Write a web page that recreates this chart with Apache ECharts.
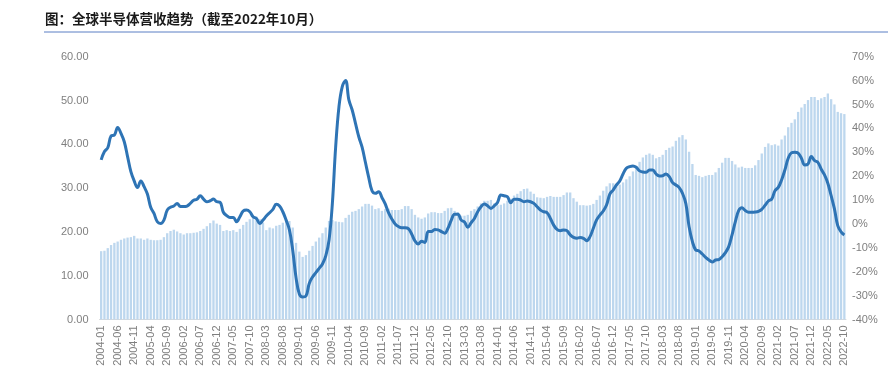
<!DOCTYPE html>
<html>
<head>
<meta charset="utf-8">
<script src="https://cdn.jsdelivr.net/npm/echarts@6/dist/echarts.min.js"></script>
<style>
  html, body { margin: 0; padding: 0; background: #fff; }
  #chart { width: 888px; height: 377px; }
</style>
</head>
<body>
<div id="chart"></div>
<script>
// 月度类目 2004-01 ~ 2022-10
const months = [];
for (let y = 2004; y <= 2022; y++) {
  for (let m = 1; m <= 12; m++) {
    if (y === 2022 && m > 10) break;
    months.push(y + "-" + (m < 10 ? "0" + m : m));
  }
}

// 全球半导体营收（左轴）
const revenue = [
  15.6, 15.7, 16.3, 17.0, 17.5, 17.8, 18.2, 18.5, 18.7, 18.8, 19.1, 18.5, // 2004
  18.5, 18.2, 18.5, 18.2, 18.1, 18.1, 18.2, 18.8, 19.7, 20.2, 20.5, 20.1, // 2005
  19.7, 19.4, 19.7, 19.7, 19.8, 19.9, 20.2, 20.7, 21.3, 22.0, 22.6, 21.9, // 2006
  21.6, 20.2, 20.4, 20.2, 20.4, 20.0, 20.7, 21.6, 22.3, 22.9, 23.2, 23.5, // 2007
  22.9, 22.1, 20.4, 21.0, 20.8, 21.4, 21.6, 22.1, 22.7, 22.5, 21.0, 17.5, // 2008
  15.5, 14.3, 14.7, 15.7, 16.8, 17.8, 18.7, 19.7, 21.0, 22.5, 22.7, 22.4, // 2009
  22.3, 22.2, 23.2, 23.9, 24.6, 24.8, 25.2, 25.8, 26.4, 26.4, 26.0, 25.2, // 2010
  25.4, 24.8, 25.2, 25.3, 25.0, 25.0, 25.0, 25.2, 25.9, 25.9, 25.2, 23.9, // 2011
  23.3, 23.0, 23.3, 24.2, 24.5, 24.5, 24.3, 24.3, 24.8, 25.4, 25.5, 24.8, // 2012
  24.5, 23.7, 23.7, 23.9, 24.8, 25.2, 25.8, 26.5, 27.1, 27.1, 27.3, 26.5, // 2013
  26.1, 26.2, 26.5, 27.1, 27.6, 28.3, 28.7, 29.3, 29.8, 29.9, 29.2, 28.7, // 2014
  27.9, 27.8, 27.7, 28.0, 28.2, 28.0, 28.0, 28.0, 28.4, 29.0, 29.0, 27.7, // 2015
  26.9, 26.1, 26.1, 26.0, 26.1, 26.4, 27.3, 28.3, 29.4, 30.4, 31.1, 31.1, // 2016
  30.3, 30.8, 31.3, 32.0, 32.7, 33.8, 34.9, 36.0, 37.0, 37.6, 37.9, 37.6, // 2017
  36.8, 37.1, 37.6, 38.7, 39.2, 39.5, 40.8, 41.6, 42.1, 41.1, 38.3, 35.5, // 2018
  33.0, 32.8, 32.5, 32.8, 33.0, 33.0, 33.6, 34.6, 35.8, 36.9, 36.9, 36.2, // 2019
  35.4, 34.7, 34.9, 34.6, 34.6, 34.6, 35.2, 36.4, 37.9, 39.4, 40.2, 39.8, // 2020
  40.0, 39.7, 41.1, 42.0, 43.9, 44.9, 45.7, 47.4, 48.4, 49.2, 50.1, 50.8, // 2021
  50.8, 50.1, 50.5, 50.8, 51.6, 50.3, 49.1, 47.4, 47.1, 46.9              // 2022
];

// 同比增速 %（右轴）
const yoy = [
  26.8, 30.3, 31.9, 36.8, 37.2, 40.4, 37.9, 34.4, 28.2, 21.9, 18.0, 15.2,
  18.0, 15.6, 12.5, 7.0, 4.4, 0.9, 0.2, 1.6, 5.8, 7.0, 7.5, 8.6,
  7.3, 7.3, 7.5, 8.6, 9.9, 10.3, 11.8, 10.4, 9.3, 9.7, 10.4, 9.3,
  9.1, 4.9, 3.5, 2.7, 2.7, 0.9, 3.0, 5.4, 5.8, 5.1, 3.0, 2.3,
  0.2, 1.6, 3.3, 4.7, 6.1, 8.2, 7.5, 5.1, 1.6, -2.5, -11.0, -22.5,
  -29.3, -30.6, -30.2, -24.9, -22.2, -20.4, -18.6, -16.8, -13.4, -6.7, 8.6, 32.3,
  49.1, 57.5, 60.0, 51.9, 47.7, 42.1, 36.5, 32.1, 25.8, 19.5, 13.9, 12.8,
  13.5, 11.1, 8.4, 4.7, 2.1, 0.0, -1.1, -1.6, -1.6, -2.0, -4.2, -7.1,
  -8.4, -7.2, -7.8, -3.2, -3.2, -2.3, -2.5, -3.2, -3.9, -1.8, 1.6, 4.1,
  4.1, 1.6, 0.8, -1.4, 0.5, 2.3, 5.1, 7.2, 8.3, 7.6, 6.5, 7.6,
  9.0, 12.1, 11.8, 11.4, 8.9, 10.3, 10.3, 10.0, 9.3, 9.6, 9.3, 8.6,
  7.2, 5.8, 5.1, 4.7, 2.3, -0.5, -2.3, -2.8, -2.5, -2.8, -4.6, -5.6,
  -6.0, -5.7, -6.0, -7.0, -5.3, -1.8, 1.7, 3.7, 5.4, 7.9, 12.5, 14.2,
  16.3, 18.0, 20.9, 23.3, 24.0, 24.3, 23.7, 22.2, 21.7, 21.6, 22.6, 22.6,
  20.9, 20.1, 20.2, 20.9, 19.8, 17.3, 16.3, 15.2, 12.8, 8.6, -1.2, -7.4,
  -10.9, -11.3, -12.6, -14.0, -15.1, -15.9, -15.1, -14.9, -13.7, -12.0, -9.5, -4.6,
  1.0, 5.6, 6.8, 5.6, 4.9, 4.9, 5.0, 5.3, 6.1, 7.8, 9.6, 10.4,
  13.9, 15.3, 18.4, 22.6, 27.5, 29.8, 30.0, 29.6, 27.5, 24.7, 25.1, 28.2,
  26.5, 25.8, 22.9, 20.5, 17.0, 11.8, 6.3, -0.7, -3.3, -4.6
];

const titleText = "图：全球半导体营收趋势（截至2022年10月）";

const myChart = echarts.init(document.getElementById("chart"));
const labelStyle = { color: "#7f7f7f", fontSize: 11, fontFamily: "Liberation Sans, Arial, sans-serif" };

const option = {
  animation: false,
  title: {
    text: titleText,
    left: 40,
    top: 7,
    textStyle: { fontSize: 13.5, fontWeight: "bold", color: "#1a1a1a", fontFamily: "Noto Sans CJK SC" },
  },
  graphic: [
    {
      type: "line",
      shape: { x1: 44, y1: 32, x2: 888, y2: 32 },
      style: { stroke: "#5b7fc4", lineWidth: 1 },
    },
  ],
  grid: { left: 99.5, right: 42, top: 56.7, bottom: 57.5 },
  xAxis: {
    type: "category",
    data: months,
    boundaryGap: true,
    axisLine: { lineStyle: { color: "#d9d9d9" } },
    axisTick: { interval: 4, alignWithLabel: true, length: 4, lineStyle: { color: "#d9d9d9" } },
    axisLabel: Object.assign({ interval: 4, rotate: 90, margin: 6 }, labelStyle),
  },
  yAxis: [
    {
      type: "value",
      min: 0,
      max: 60,
      interval: 10,
      splitLine: { show: false },
      axisLine: { show: false },
      axisTick: { show: false },
      axisLabel: Object.assign({ margin: 11, formatter: (v) => v.toFixed(2) }, labelStyle),
    },
    {
      type: "value",
      min: -40,
      max: 70,
      interval: 10,
      splitLine: { show: false },
      axisLine: { show: false },
      axisTick: { show: false },
      axisLabel: Object.assign({ margin: 6, formatter: "{value}%" }, labelStyle),
    },
  ],
  series: [
    {
      type: "bar",
      data: revenue,
      yAxisIndex: 0,
      barCategoryGap: "30%",
      itemStyle: { color: "#bdd7ee" },
    },
    {
      type: "line",
      data: yoy,
      yAxisIndex: 1,
      smooth: 0.4,
      symbol: "none",
      lineStyle: { color: "#2e74b5", width: 3 },
    },
  ],
};

myChart.setOption(option);
</script>
</body>
</html>
